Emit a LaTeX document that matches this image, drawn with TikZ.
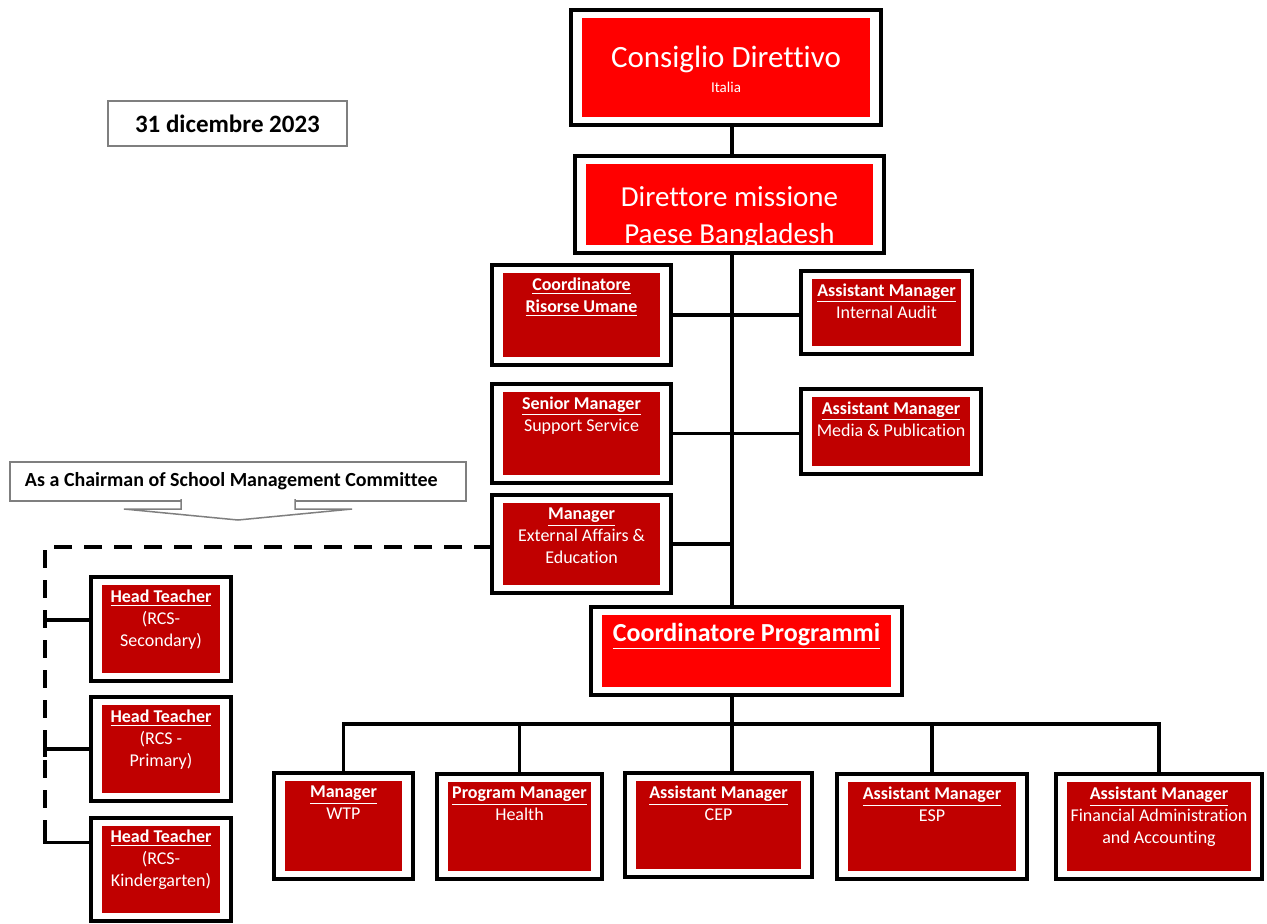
\documentclass[tikz,border=0pt]{standalone}
\usepackage{fontspec}
\setmainfont{Carlito}[Ligatures=NoCommon]
\usepackage{tikz}
\usetikzlibrary{positioning}

\definecolor{brightred}{HTML}{FF0000}
\definecolor{darkred}{HTML}{C00000}
\definecolor{notegray}{HTML}{7F7F7F}

\begin{document}
\begin{tikzpicture}
    [
        x=0.5pt, y=-0.5pt, node distance=60pt, on grid,
        frame_node/.style={rectangle, draw=black, line width=2pt, fill=white, inner sep=0pt, outer sep=0pt,
            path picture={\fill[#1] ([shift={(5.5pt,-4pt)}]path picture bounding box.north west) rectangle ([shift={(-5.5pt,4pt)}]path picture bounding box.south east);}},
        top_node/.style={frame_node=brightred},
        red_node/.style={frame_node=darkred},
        box_text/.style={anchor=north, yshift=#1, inner sep=0pt, text=white, align=center, font=\fontsize{9}{11}\selectfont},
        box_text/.default=-6pt,
        note_node/.style={rectangle, draw=notegray, line width=0.75pt, fill=white, inner sep=0pt, outer sep=0pt, text=black},
        link/.style={line width=1.7pt, color=black},
        dashed_link/.style={line width=1.7pt, color=black, dash pattern=on 9pt off 6pt},
    ]
        \useasboundingbox (0,0) rectangle (1267,923);
        \coordinate (trunk) at (732,0);
        \coordinate (bar) at (0,724);
        \coordinate (rail) at (45,842);

        \node[note_node, minimum width=119.5pt, minimum height=22.5pt, font=\bfseries\fontsize{12.5}{14}\selectfont] (date) at (227.5,123.5) {31 dicembre 2023};
        \node[note_node, text width=213pt, inner xsep=7.5pt, minimum height=19.5pt, align=flush left, font=\bfseries\fontsize{10}{12}\selectfont] (smc) at (238,481.5) {As a Chairman of School Management Committee};
        \draw[draw=notegray, line width=0.75pt, fill=white] ([shift={(-28.5pt,1pt)}]smc.south) -- ++(0,10) -- ++(-57,0) -- ++(114,11) -- ++(114,-11) -- ++(-57,0) -- ++(0,-10);

        \node[top_node, minimum width=155pt, minimum height=57.5pt, label={[box_text=-18pt, font=\fontsize{15.5}{12.5}\selectfont]above:{Consiglio Direttivo\\{\fontsize{7.5}{9}\selectfont Italia}}}] (cd) at (726,67.5) {};
        \node[top_node, minimum width=154.5pt, minimum height=48.5pt, label={[box_text=-15pt, font=\fontsize{14.5}{18.5}\selectfont]above:{Direttore missione\\Paese Bangladesh}}] (dm) at (729.5,204.5) {};

        \node[red_node, minimum width=89.5pt, minimum height=50pt, label={[box_text]above:{\underline{\textbf{Coordinatore}}\\\underline{\textbf{Risorse Umane}}}}] (ru) at (581.5,315) {};
        \node[red_node, minimum width=85.5pt, minimum height=41.5pt, label={[box_text]above:{\underline{\textbf{Assistant Manager}}\\Internal Audit}}] (ia) at (886.5,312.5) {};
        \node[red_node, minimum width=89.5pt, minimum height=49.5pt, label={[box_text]above:{\underline{\textbf{Senior Manager}}\\Support Service}}] (ss) at (581.5,433.5) {};
        \node[red_node, minimum width=90pt, minimum height=42.5pt, label={[box_text]above:{\underline{\textbf{Assistant Manager}}\\Media \& Publication}}] (mp) at (891,431.5) {};
        \node[red_node, minimum width=89.5pt, minimum height=49pt, label={[box_text]above:{\underline{\textbf{Manager}}\\External Affairs \&\\Education}}] (ea) at (581.5,544) {};

        \node[top_node, minimum width=155.5pt, minimum height=44pt, label={[box_text=-8pt, font=\bfseries\fontsize{13}{15}\selectfont]above:{\underline{Coordinatore Programmi}}}] (cp) at (746.5,651) {};

        \node[red_node, minimum width=69.5pt, minimum height=53pt, label={[box_text]above:{\underline{\textbf{Manager}}\\WTP}}] (wtp) at (343.5,826) {};
        \node[red_node, minimum width=82.5pt, minimum height=52.5pt, label={[box_text]above:{\underline{\textbf{Program Manager}}\\Health}}] (hl) at (519.5,826.5) {};
        \node[red_node, minimum width=93.5pt, minimum height=52pt, label={[box_text]above:{\underline{\textbf{Assistant Manager}}\\CEP}}] (cep) at (718.5,825) {};
        \node[red_node, minimum width=95pt, minimum height=52.5pt, label={[box_text]above:{\underline{\textbf{Assistant Manager}}\\ESP}}] (esp) at (932,826.5) {};
        \node[red_node, minimum width=103pt, minimum height=52.5pt, label={[box_text]above:{\underline{\textbf{Assistant Manager}}\\Financial Administration\\and Accounting}}] (fin) at (1159,826.5) {};

        \node[red_node, minimum width=70pt, minimum height=52pt, label={[box_text]above:{\underline{\textbf{Head Teacher}}\\(RCS-\\Secondary)}}] (ht1) at (161,629) {};
        \node[red_node, minimum width=70pt, minimum height=52pt, label={[box_text]above:{\underline{\textbf{Head Teacher}}\\(RCS -\\Primary)}}] (ht2) [below = of ht1] {};
        \node[red_node, minimum width=70pt, minimum height=51.5pt, label={[box_text]above:{\underline{\textbf{Head Teacher}}\\(RCS-\\Kindergarten)}}] (ht3) [below = of ht2] {};

        \draw[link] (cd.south -| trunk) -- (dm.north -| trunk);
        \draw[link] (dm.south -| trunk) -- (cp.north -| trunk);
        \draw[link] (ru.east) -- (ru.east -| ia.west);
        \draw[link] (ss.east) -- (ss.east -| mp.west);
        \draw[link] (ea.east) -- (ea.east -| trunk);
        \draw[link] (cp.south -| trunk) -- (cep.north -| trunk);
        \draw[link] (wtp.north) |- (trunk |- bar) -| (fin.north);
        \foreach \n in {hl, esp} \draw[link] (\n.north |- bar) -- (\n.north);

        \draw[dashed_link] ([yshift=-1.5pt]ea.west) -| ([yshift=5pt]rail);
        \draw[link] ([yshift=5pt]rail) |- ([yshift=13.25pt]ht3.west);
        \draw[link] ([yshift=4.5pt]ht1.west) -- ++(-46,0) ++(0,-8) -- ++(0,16);
        \draw[link] (ht2.west) -- ++(-46,0) ++(0,-8) -- ++(0,16);
\end{tikzpicture}
\end{document}
